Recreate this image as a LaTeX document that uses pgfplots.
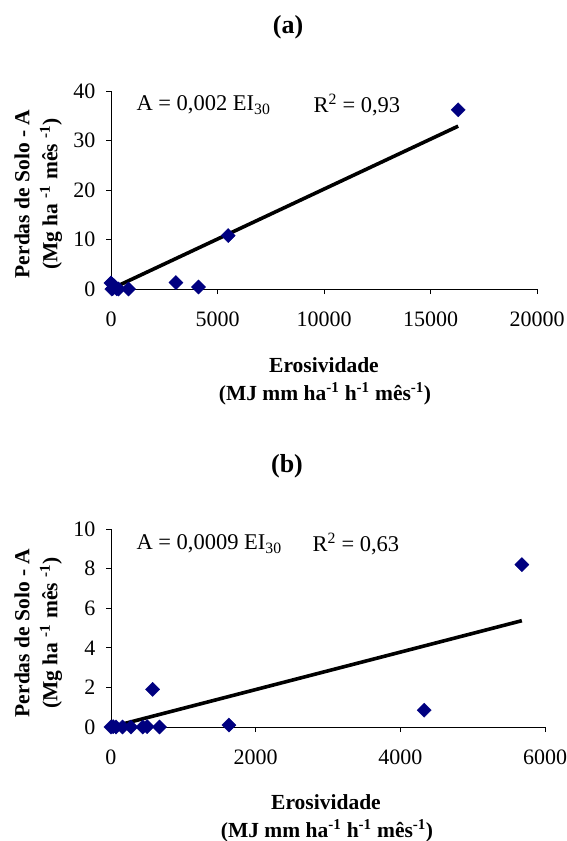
\documentclass[border=0pt]{standalone}
\usepackage{fontspec}
\setmainfont{Liberation Serif}
\usepackage{pgfplots}
\pgfplotsset{compat=1.18}
\definecolor{navy}{RGB}{0,0,128}
\pgfplotsset{
  myaxis/.style={
    scale only axis,
    axis x line=bottom, axis y line=left,
    axis line style={-, line width=0.8pt, black},
    tick align=outside,
    major tick length=5pt,
    tick style={line width=0.8pt, black},
    ticklabel style={font=\fontsize{22}{24}\selectfont},
    xticklabel style={yshift=-14pt},
    yticklabel style={xshift=-7pt},
    /pgf/number format/assume math mode=true,
    /pgf/number format/set thousands separator={},
    scaled x ticks=false,
    scaled y ticks=false,
    clip=false,
  },
  mymarks/.style={only marks, mark=square*, mark size=5pt,
    mark options={rotate=45, fill=navy, draw=navy}},
  myline/.style={no marks, black, line width=3.6pt},
}
\newcommand{\lab}{\fontsize{21.5}{23}\selectfont\bfseries}
\newcommand{\eq}{\fontsize{22.5}{24}\selectfont}
\begin{document}
\begin{tikzpicture}
\useasboundingbox (0,0) rectangle (567pt,-841pt);
% ---------- (a) ----------
\begin{axis}[myaxis,
  at={(111pt,-289pt)}, anchor=south west,
  width=426pt, height=198pt,
  xmin=0, xmax=20000, ymin=0, ymax=40,
  xtick={0,5000,10000,15000,20000},
  ytick={0,10,20,30,40}]
\addplot[myline] coordinates {(0,0) (16300,32.9)};
\addplot[mymarks] table {
x y
0 1.2
40 0
80 0.1
150 0.6
270 0.05
350 0
820 0
3050 1.3
4110 0.4
5500 10.8
16300 36.2
};
\end{axis}
\node[font=\fontsize{26}{28}\selectfont\bfseries] at (288pt,-27pt) {(a)};
\node[anchor=west, font=\eq] at (133pt,-105pt) {A = 0,002 EI\textsubscript{30}};
\node[anchor=west, font=\eq] at (310pt,-105pt) {R\textsuperscript{2} = 0,93};
\node[font=\lab] at (324pt,-365pt) {Erosividade};
\node[font=\lab] at (325pt,-394pt) {(MJ mm ha\textsuperscript{-1} h\textsuperscript{-1} mês\textsuperscript{-1})};
\node[font=\lab, rotate=90] at (22pt,-194pt) {Perdas de Solo - A};
\node[font=\lab, rotate=90] at (51pt,-194pt) {(Mg ha \textsuperscript{-1} mês \textsuperscript{-1})};
% ---------- (b) ----------
\begin{axis}[myaxis,
  at={(111pt,-727pt)}, anchor=south west,
  width=434pt, height=198pt,
  xmin=0, xmax=6000, ymin=0, ymax=10,
  xtick={0,2000,4000,6000},
  ytick={0,2,4,6,8,10}]
\addplot[myline] coordinates {(0,0) (5680,5.37)};
\addplot[mymarks] table {
x y
0 0
30 0.02
70 0
160 0
275 0
440 0
500 0.02
670 0
575 1.9
1630 0.1
4330 0.85
5680 8.2
};
\end{axis}
\node[font=\fontsize{26}{28}\selectfont\bfseries] at (287pt,-466pt) {(b)};
\node[anchor=west, font=\eq] at (133pt,-544pt) {A = 0,0009 EI\textsubscript{30}};
\node[anchor=west, font=\eq] at (309pt,-544pt) {R\textsuperscript{2} = 0,63};
\node[font=\lab] at (326pt,-802pt) {Erosividade};
\node[font=\lab] at (327pt,-831pt) {(MJ mm ha\textsuperscript{-1} h\textsuperscript{-1} mês\textsuperscript{-1})};
\node[font=\lab, rotate=90] at (22pt,-633pt) {Perdas de Solo - A};
\node[font=\lab, rotate=90] at (51pt,-633pt) {(Mg ha \textsuperscript{-1} mês \textsuperscript{-1})};
\end{tikzpicture}
\end{document}
